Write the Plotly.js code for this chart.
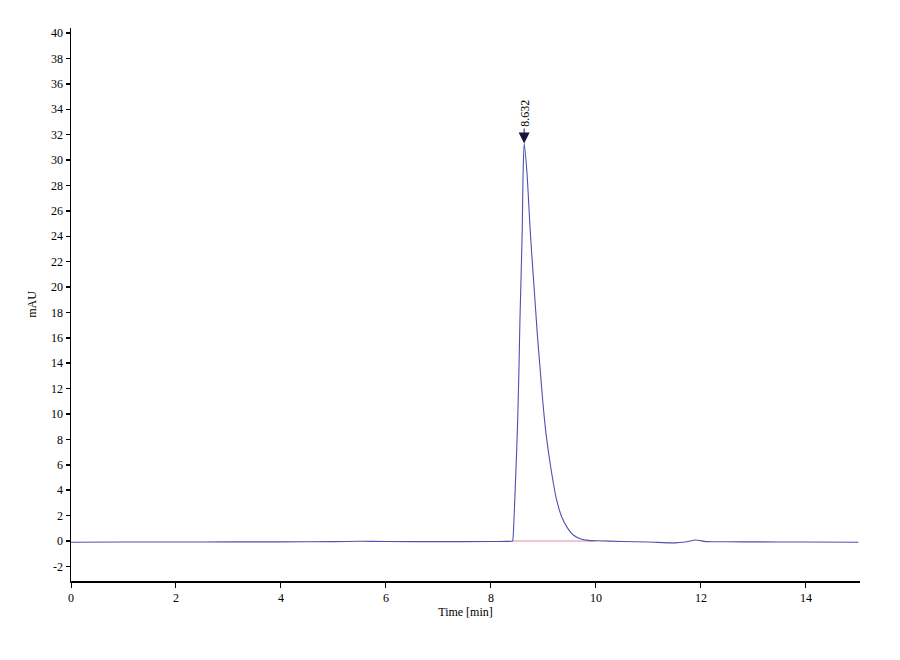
<!DOCTYPE html>
<html>
<head>
<meta charset="utf-8">
<script src="https://cdn.plot.ly/plotly-3.0.1.min.js"></script>
<style>
    html, body { margin: 0; padding: 0; background: #ffffff; }
    #chart { width: 900px; height: 660px; }
</style>
</head>
<body>
<div id="chart"></div>
<script>
// chromatogram (time in min, signal in mAU)
const timeMin = [0, 1, 2, 3, 4, 5, 5.5, 6, 7, 8, 8.3, 8.40, 8.413,
    8.438, 8.476, 8.509, 8.533, 8.552, 8.596, 8.61, 8.632,
    8.686, 8.743, 8.78, 8.838, 8.882, 8.933, 8.985, 9.048, 9.137, 9.251, 9.347, 9.442, 9.568, 9.728, 9.85,
    10.01, 10.5, 11, 11.5, 11.7, 11.9, 12.1, 12.5, 13, 14, 15];
const signal = [-0.1, -0.08, -0.08, -0.07, -0.07, -0.05, -0.02, -0.04, -0.05, -0.04, -0.03, -0.02, 0,
    1.65, 5.6, 9.5, 13.5, 17.4, 24.5, 28.5, 31.3,
    29.0, 24.8, 22.4, 18.98, 16.35, 13.72, 11.1, 8.48, 5.85, 3.23, 1.91, 1.13, 0.47, 0.13, 0.05,
    0.02, -0.04, -0.08, -0.15, -0.08, 0.08, -0.05, -0.06, -0.07, -0.08, -0.1];

// integration baseline under the peak
const baseTime = [8.41, 10.0];
const baseSignal = [0, 0];

// peak label
const peakTime = 8.632;
const peakHeight = 31.3;
const peakLabel = '8.632';

const xTicks = [0, 2, 4, 6, 8, 10, 12, 14];
const yTicks = [-2, 0, 2, 4, 6, 8, 10, 12, 14, 16, 18, 20, 22, 24, 26, 28, 30, 32, 34, 36, 38, 40];

window.onload = main;

function main() {
    const serif = 'Liberation Serif, Times New Roman, serif';

    const traces = [
        {
            x: baseTime,
            y: baseSignal,
            mode: 'lines',
            type: 'scatter',
            line: { color: '#e48aa6', width: 1 },
            hoverinfo: 'skip'
        },
        {
            x: timeMin,
            y: signal,
            mode: 'lines',
            type: 'scatter',
            line: { color: '#4f50b0', width: 1.1, shape: 'spline', smoothing: 0.6 }
        }
    ];

    const layout = {
        width: 900,
        height: 660,
        margin: { l: 71, r: 40, t: 28, b: 79 },
        paper_bgcolor: '#ffffff',
        plot_bgcolor: '#ffffff',
        showlegend: false,
        font: { family: serif, size: 12, color: '#000000' },
        xaxis: {
            range: [0, 15.03],
            tickvals: xTicks,
            ticktext: xTicks.map(String),
            ticks: 'outside',
            ticklen: 5,
            tickwidth: 1,
            tickcolor: '#000',
            showgrid: false,
            zeroline: false,
            showline: true,
            linecolor: '#000',
            linewidth: 2,
            tickfont: { family: serif, size: 12 },
            title: { text: 'Time [min]', font: { family: serif, size: 12 }, standoff: 2 }
        },
        yaxis: {
            range: [-3.15, 40.4],
            tickvals: yTicks,
            ticktext: yTicks.map(String),
            ticks: 'outside',
            ticklen: 4,
            tickwidth: 1.5,
            tickcolor: '#000',
            showgrid: false,
            zeroline: false,
            showline: true,
            linecolor: '#000',
            linewidth: 1.5,
            tickfont: { family: serif, size: 12 },
            title: { text: 'mAU', font: { family: serif, size: 12 }, standoff: 12 }
        },
        annotations: [
            {
                x: peakTime,
                y: peakHeight,
                xref: 'x',
                yref: 'y',
                text: peakLabel,
                textangle: -90,
                font: { family: serif, size: 12, color: '#000' },
                showarrow: true,
                arrowhead: 2,
                arrowsize: 2.2,
                arrowwidth: 1,
                arrowcolor: '#15153d',
                ax: 0,
                ay: -30
            }
        ]
    };

    Plotly.newPlot('chart', traces, layout, { displayModeBar: false, staticPlot: true });
}
</script>
</body>
</html>
